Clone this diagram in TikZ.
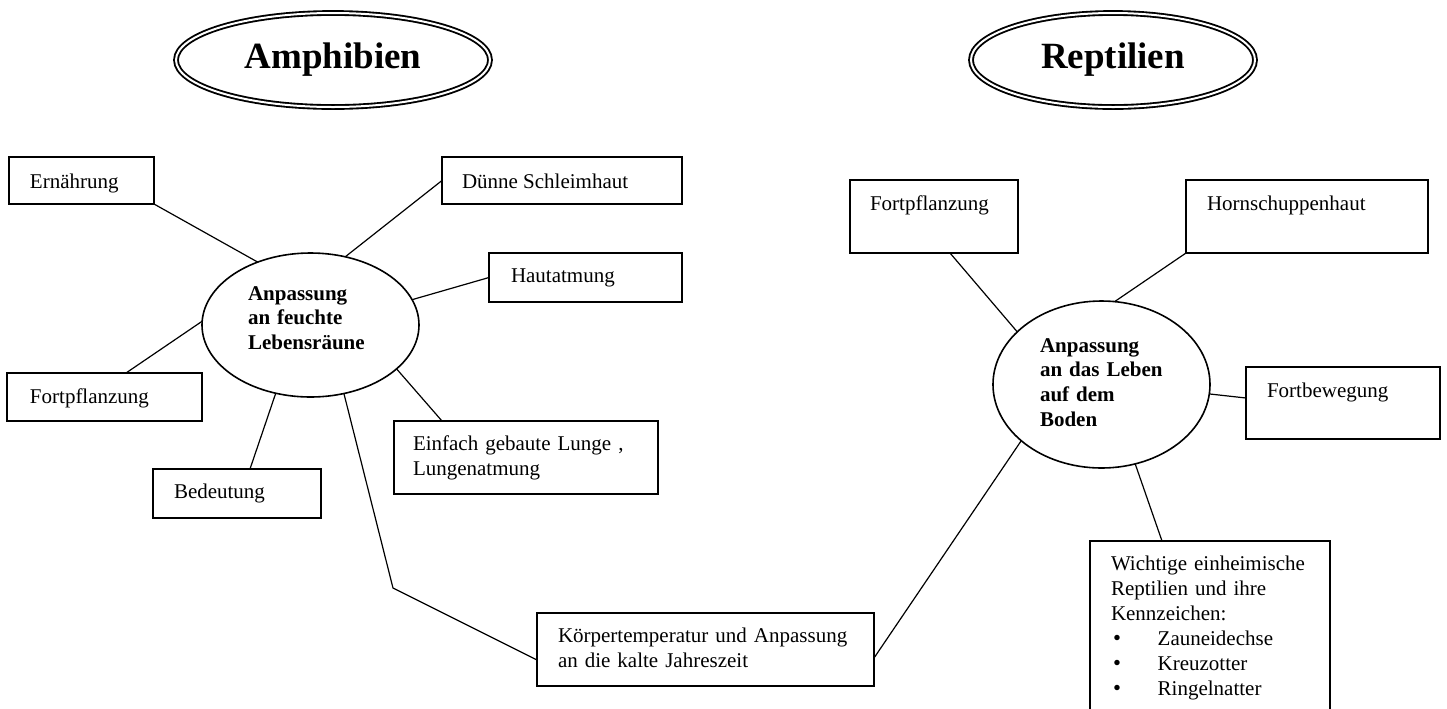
\documentclass[tikz,border=0pt]{standalone}
\usepackage{fontspec}
\setmainfont{Liberation Serif}
\usetikzlibrary{shapes.geometric,calc}
\def\pxu{0.75pt}
\newcommand\bigbul{\makebox[35pt][l]{\hspace{1.5pt}{\fontsize{17pt}{17pt}\selectfont•}}}
\begin{document}
\begin{tikzpicture}[x=0.75pt,y=-0.75pt,
  box/.style={draw, rectangle, line width=1.2pt, inner sep=0pt, outer sep=0pt},
  conn/.style={line width=0.9pt},
  txt/.style={inner sep=0pt, outer sep=0pt, anchor=base west, font=\fontsize{15.75pt}{18.75pt}\selectfont},
  mtxt/.style={txt, text width=225pt, align=left},
  ctr/.style={mtxt, font=\fontsize{15.75pt}{18.6pt}\selectfont\bfseries},
  oval/.style={draw, ellipse, line width=1.2pt, inner sep=0pt, outer sep=0pt},
  titell/.style={draw, ellipse, double, line width=1.4pt, double distance=1.5pt, inner sep=0pt, outer sep=0pt, font=\fontsize{27.75pt}{32pt}\selectfont\bfseries}]
\useasboundingbox (0,0) rectangle (1447,708);
\clip (0,0) rectangle (1447,708);

% titles
\node[titell, minimum width=314*\pxu, minimum height=94*\pxu] (amph) at (333,60) {Amphibien};
\node[titell, minimum width=284*\pxu, minimum height=94*\pxu] (rept) at (1113,60) {Reptilien};

% central ovals
\node[oval, minimum width=217*\pxu, minimum height=144*\pxu] (amc) at (310.5,325) {};
\node[oval, minimum width=217*\pxu, minimum height=167*\pxu] (rpc) at (1101.5,384.5) {};
\node[ctr] (amc-t) at (248,300) {Anpassung\\an feuchte\\Lebensräune};
\node[ctr] (rpc-t) at (1040,352) {Anpassung\\an das Leben\\auf dem\\Boden};

% Amphibien boxes
\node[box, minimum width=145*\pxu, minimum height=47*\pxu] (ern) at (81.5,180.5) {};
\node[txt] (ern-t) at (30,188) {Ernährung};
\node[box, minimum width=240*\pxu, minimum height=47*\pxu] (dun) at (562,180.5) {};
\node[txt] (dun-t) at (462,188) {Dünne Schleimhaut};
\node[box, minimum width=193*\pxu, minimum height=49*\pxu] (hau) at (585.5,277.5) {};
\node[txt] (hau-t) at (511,282) {Hautatmung};
\node[box, minimum width=195*\pxu, minimum height=48*\pxu] (fpl) at (104.5,397) {};
\node[txt] (fpl-t) at (30,403) {Fortpflanzung};
\node[box, minimum width=168*\pxu, minimum height=49*\pxu] (bed) at (237,493.5) {};
\node[txt] (bed-t) at (174,498) {Bedeutung};
\node[box, minimum width=264*\pxu, minimum height=73*\pxu] (ein) at (526,457.5) {};
\node[mtxt] (ein-t) at (413,450) {Einfach gebaute Lunge ,\\Lungenatmung};
\node[box, minimum width=337*\pxu, minimum height=73*\pxu] (kt) at (705.5,649.5) {};
\node[mtxt] (kt-t) at (558,642) {Körpertemperatur und Anpassung\\an die kalte Jahreszeit};

% Reptilien boxes
\node[box, minimum width=168*\pxu, minimum height=73*\pxu] (fpr) at (934,216.5) {};
\node[txt] (fpr-t) at (870,210) {Fortpflanzung};
\node[box, minimum width=242*\pxu, minimum height=73*\pxu] (hor) at (1307,216.5) {};
\node[txt] (hor-t) at (1207,210) {Hornschuppenhaut};
\node[box, minimum width=194*\pxu, minimum height=72*\pxu] (fbw) at (1343,403) {};
\node[txt] (fbw-t) at (1267,397) {Fortbewegung};
\node[box, minimum width=240*\pxu, minimum height=179*\pxu] (wic) at (1210,630.5) {};
\node[mtxt] (wic-t) at (1111,570) {Wichtige einheimische\\Reptilien und ihre\\Kennzeichen:\\
\bigbul Zauneidechse\\
\bigbul Kreuzotter\\
\bigbul Ringelnatter};

% connectors Amphibien
\draw[conn] (ern.south east) -- (amc.130);
\draw[conn] (dun.west) -- (amc.63);
\draw[conn] (hau.west) -- (amc.14);
\draw[conn] ($(fpl.north west)+(119,0)$) -- (amc.178);
\draw[conn] ($(bed.north west)+(97,0)$) -- (amc.243);
\draw[conn] ($(ein.north west)+(48,0)$) -- (amc.333);
\coordinate (kc) at (393,588);
\draw[conn] (amc.296) -- (kc) -- ($(kt.south west)+(0,-26)$);
\draw[conn] ($(kt.south east)+(0,-28)$) -- (rpc.215.6);

% connectors Reptilien
\draw[conn] ($(fpr.south west)+(100,0)$) -- (rpc.148.5);
\draw[conn] (hor.south west) -- (rpc.81.5);
\draw[conn] ($(fbw.north west)+(0,31)$) -- (rpc.355.4);
\draw[conn] ($(wic.north west)+(72,0)$) -- (rpc.293.6);
\end{tikzpicture}
\end{document}
